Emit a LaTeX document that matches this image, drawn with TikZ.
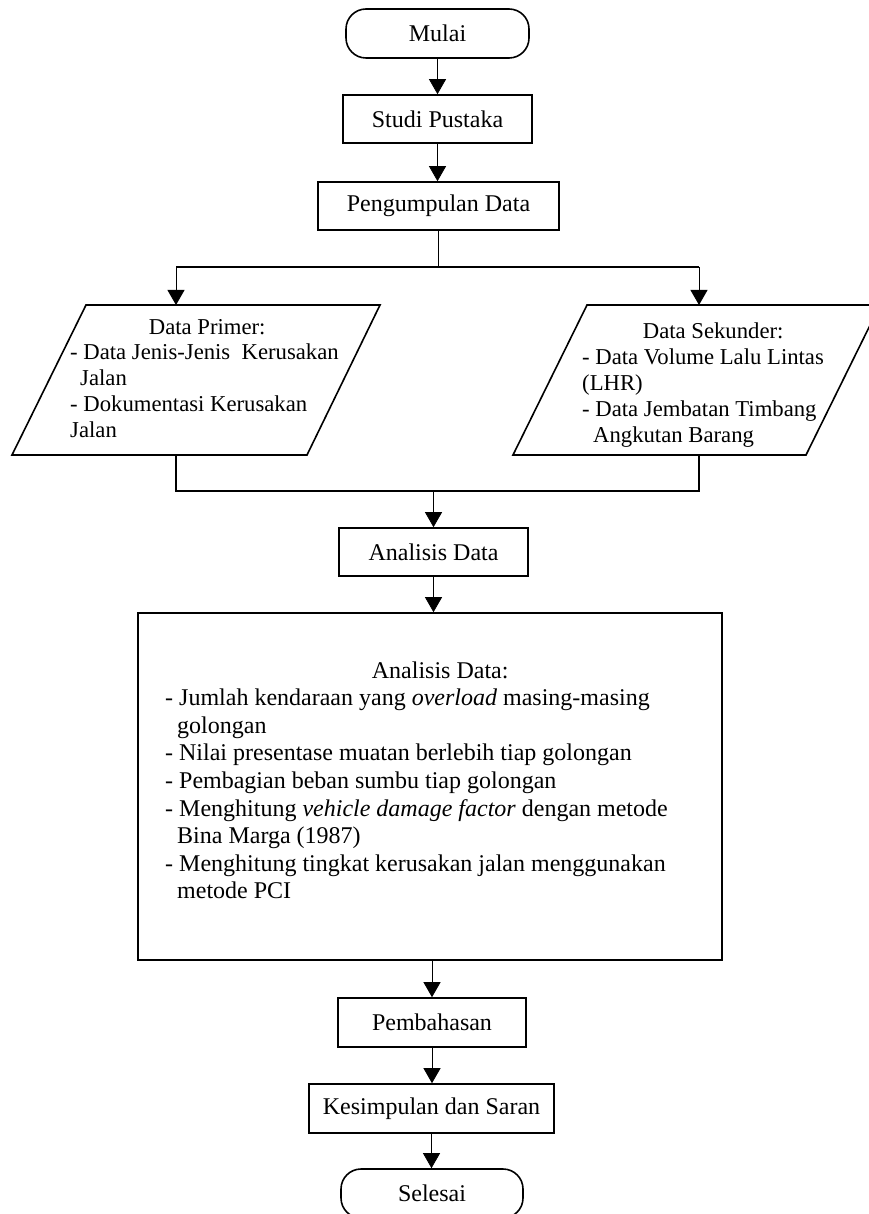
\documentclass[tikz,border=0pt]{standalone}
\usepackage{fontspec}
\setmainfont{Liberation Serif}
\usetikzlibrary{arrows.meta}
\begin{document}
\begin{tikzpicture}[x=1pt,y=-1pt,
  box/.style={draw, line width=1.6pt, inner sep=0pt, font=\fontsize{24}{27.5}\selectfont},
  term/.style={box, rounded corners=20pt},
  conn/.style={line width=0.8pt, -{Triangle[width=17pt,length=15pt]}},
  wire/.style={line width=1.6pt},
  shapeline/.style={line width=1.6pt, line join=miter},
  txt/.style={inner sep=0pt, align=flush left, anchor=base west}]
\useasboundingbox (0,0) rectangle (869,1214);

% terminals and process boxes
\node[term, minimum width=183pt, minimum height=49pt] (start) at (437.5,33.5) {Mulai};
\node[box, minimum width=189pt, minimum height=48pt] (studi) at (437.5,119) {Studi Pustaka};
\node[box, minimum width=241pt, minimum height=48pt] (kumpul) at (438.5,206) {Pengumpulan Data};
\node[box, minimum width=189pt, minimum height=48pt] (analisis) at (433.5,552) {Analisis Data};
\node[box, minimum width=584pt, minimum height=347pt] (big) at (430,786.5) {};
\node[box, minimum width=188pt, minimum height=49pt] (bahas) at (432,1022.5) {Pembahasan};
\node[box, minimum width=245pt, minimum height=49pt] (simpul) at (431.5,1108.5) {Kesimpulan dan Saran};
\node[term, minimum width=182pt, minimum height=49pt] (selesai) at (432,1193.5) {Selesai};

% parallelograms
\coordinate (p1) at (86,305); \coordinate (p2) at (380,305);
\coordinate (p3) at (307,455); \coordinate (p4) at (12,455);
\draw[shapeline] (p1) -- (p2) -- (p3) -- (p4) -- cycle;
\coordinate (s1) at (587,305); \coordinate (s2) at (880,305);
\coordinate (s3) at (806,455); \coordinate (s4) at (513,455);
\draw[shapeline] (s1) -- (s2) -- (s3) -- (s4) -- cycle;

% parallelogram texts
\node[txt, text width=330pt, font=\fontsize{22.7}{25.8}\selectfont] (ptext) at (70,334)
  {\makebox[274pt]{Data Primer:}\\- Data Jenis-Jenis\ \ Kerusakan\\\hspace*{10pt}Jalan\\- Dokumentasi Kerusakan\\Jalan};
\node[txt, text width=300pt, font=\fontsize{22.7}{26}\selectfont] (stext) at (582,338)
  {\makebox[262pt]{Data Sekunder:}\\- Data Volume Lalu Lintas\\(LHR)\\- Data Jembatan Timbang\\\hspace*{11pt}Angkutan Barang};

% big box text
\node[txt, text width=600pt, font=\fontsize{24}{27.6}\selectfont] (btext) at (165,678)
  {\makebox[550pt]{Analisis Data:}\\
   - Jumlah kendaraan yang \textit{overload} masing-masing\\
   \hspace*{12pt}golongan\\
   - Nilai presentase muatan berlebih tiap golongan\\
   - Pembagian beban sumbu tiap golongan\\
   - Menghitung \textit{vehicle damage factor} dengan metode\\
   \hspace*{12pt}Bina Marga (1987)\\
   - Menghitung tingkat kerusakan jalan menggunakan\\
   \hspace*{12pt}metode PCI};

% connectors
\draw[conn] (start) -- (studi);
\draw[conn] (studi.south) -- (studi.south |- kumpul.north);

\coordinate (bl) at (176,267);
\coordinate (br) at (699,267);
\coordinate (pin) at (176,305);
\coordinate (sin) at (699,305);
\draw[wire] (kumpul.south) -- (kumpul.south |- bl);
\draw[wire] (bl) -- (br);
\draw[conn] (bl) -- (pin);
\draw[conn] (br) -- (sin);

\coordinate (pout) at (176,455);
\coordinate (sout) at (699,455);
\coordinate (ml) at (176,491);
\coordinate (mr) at (699,491);
\coordinate (mc) at (433.5,491);
\draw[wire] (pout) -- (ml) -- (mr) -- (sout);
\draw[conn] (mc) -- (analisis.north);
\draw[conn] (analisis.south) -- (analisis.south |- big.north);
\draw[conn] (bahas.north |- big.south) -- (bahas.north);
\draw[conn] (bahas.south) -- (bahas.south |- simpul.north);
\draw[conn] (simpul.south) -- (simpul.south |- selesai.north);
\end{tikzpicture}
\end{document}
